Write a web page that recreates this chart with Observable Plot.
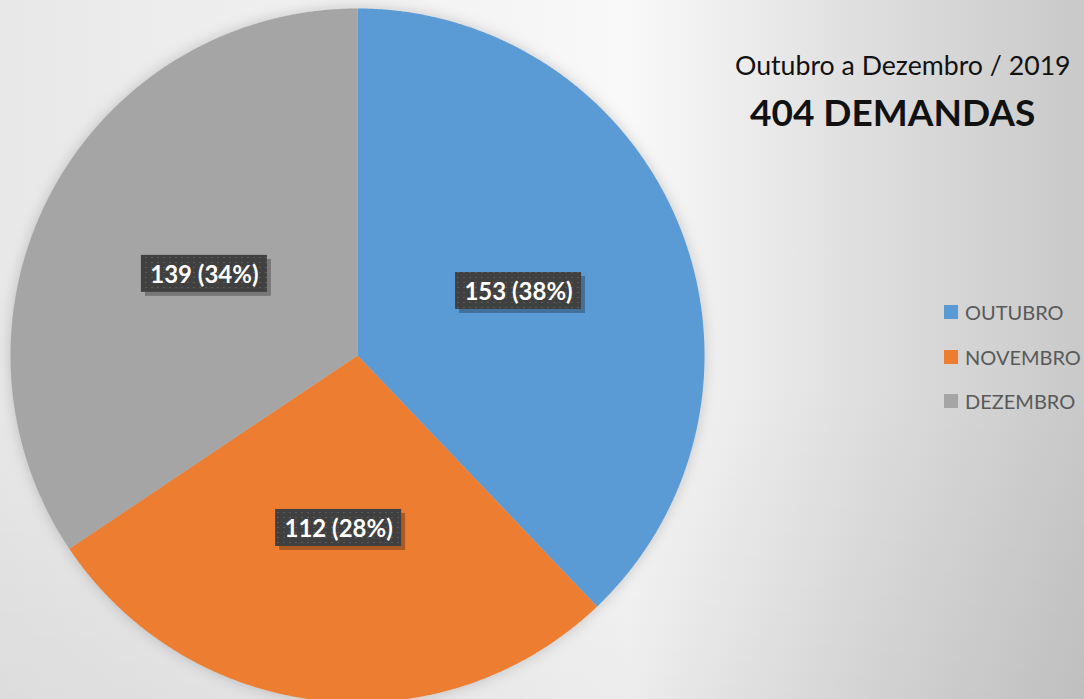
<!DOCTYPE html>
<html><head><meta charset="utf-8">
<script src="https://cdn.jsdelivr.net/npm/d3@7"></script>
<script src="https://cdn.jsdelivr.net/npm/@observablehq/plot@0.6"></script>
<style>
html,body{margin:0;padding:0;overflow:hidden;}
#chart{position:relative;width:1084px;height:699px;overflow:hidden;
  background:
    linear-gradient(to bottom, rgba(0,0,0,0) 0%, rgba(0,0,0,0) 55%, rgba(0,0,0,0.05) 100%),
    linear-gradient(to right, #e8e8e8 0%, #f2f2f2 35%, #f9f9f9 58%, #dedede 80%, #c9c9c9 100%);
  font-family: Lato, "Open Sans", sans-serif;}
#plot{position:absolute;left:0;top:0;}
.t1{position:absolute;left:735px;top:52px;font-size:26.7px;color:#111;white-space:nowrap;line-height:1;}
.t2{position:absolute;left:750px;top:93px;font-size:37px;font-weight:bold;color:#111;white-space:nowrap;line-height:1;}
#legend{position:absolute;left:944px;top:300px;}
.li{position:absolute;left:0;height:24px;display:flex;align-items:center;white-space:nowrap;font-size:20px;color:#595959;}
.sw{width:14px;height:14px;margin-right:7px;flex:none;}
</style></head>
<body><div id="chart"><div id="plot"></div></div>
<script>
const months = ["OUTUBRO", "NOVEMBRO", "DEZEMBRO"];
const counts = [153, 112, 139];
const colors = ["#5B9BD5", "#ED7D31", "#A5A5A5"];
const titleText = "Outubro a Dezembro / 2019";
const subtitleText = "404 DEMANDAS";

const total = d3.sum(counts);
// slice geometry from the data (clockwise from 12 o'clock)
let acc = 0;
const slices = months.map((m, i) => {
  const a0 = acc / total * 2 * Math.PI;
  acc += counts[i];
  const a1 = acc / total * 2 * Math.PI;
  return {month: m, value: counts[i], a0, a1};
});
const polys = [];
for (const s of slices) {
  polys.push({month: s.month, x: 0, y: 0});
  const n = Math.max(2, Math.ceil((s.a1 - s.a0) / (Math.PI / 720)));
  for (let k = 0; k <= n; k++) {
    const a = s.a0 + (s.a1 - s.a0) * k / n;
    polys.push({month: s.month, x: Math.sin(a), y: Math.cos(a)});
  }
  polys.push({month: s.month, x: 0, y: 0});
}
const labels = slices.map(s => {
  const am = (s.a0 + s.a1) / 2;
  return {month: s.month, x: 0.5 * Math.sin(am), y: 0.5 * Math.cos(am),
    text: `${s.value} (${Math.round(s.value / total * 100)}%)`};
});
const R = 347; // px per unit radius
const hw = 63 / R, hh = 18.5 / R;

const plot = Plot.plot({
  width: 1084, height: 699,
  marginLeft: 10, marginRight: 380, marginTop: 8, marginBottom: 0,
  x: {domain: [-1, 1], axis: null},
  y: {domain: [1 - 691 / R, 1], axis: null},
  color: {domain: months, range: colors},
  style: {background: "transparent", overflow: "visible"},
  marks: [
    Plot.line(polys, {x: "x", y: "y", z: "month", fill: "month", stroke: "none"}),
    Plot.rect(labels, {x1: d => d.x - hw, x2: d => d.x + hw, y1: d => d.y - hh, y2: d => d.y + hh,
      fill: "#000", fillOpacity: 0.28, dx: 4, dy: 4}),
    Plot.rect(labels, {x1: d => d.x - hw, x2: d => d.x + hw, y1: d => d.y - hh, y2: d => d.y + hh,
      fill: "url(#dotpat)"}),
    Plot.text(labels, {x: "x", y: "y", text: "text", fill: "white", fontSize: 24, fontWeight: "bold",
      fontFamily: "Lato, 'Open Sans', sans-serif", dy: 1})
  ]
});
const svg = d3.select(plot);
const defs = svg.insert("defs", ":first-child");
const pat = defs.append("pattern").attr("id", "dotpat").attr("patternUnits", "userSpaceOnUse")
  .attr("width", 6).attr("height", 5);
pat.append("rect").attr("width", 6).attr("height", 5).attr("fill", "#404040");
pat.append("rect").attr("x", 1).attr("y", 2).attr("width", 2).attr("height", 1).attr("fill", "#5a5a5a");
svg.select('g[aria-label="line"]').style("filter", "drop-shadow(0px 0px 7px rgba(0,0,0,0.18))");
document.getElementById("plot").appendChild(plot);

const chart = d3.select("#chart");
chart.append("div").attr("class", "t1").text(titleText);
chart.append("div").attr("class", "t2").text(subtitleText);
const lg = chart.append("div").attr("id", "legend");
const items = lg.selectAll(".li").data(months).join("div").attr("class", "li")
  .style("top", (d, i) => `${i * 44.5}px`);
items.append("div").attr("class", "sw").style("background", (d, i) => colors[i]);
items.append("span").text(d => d);
</script></body></html>
